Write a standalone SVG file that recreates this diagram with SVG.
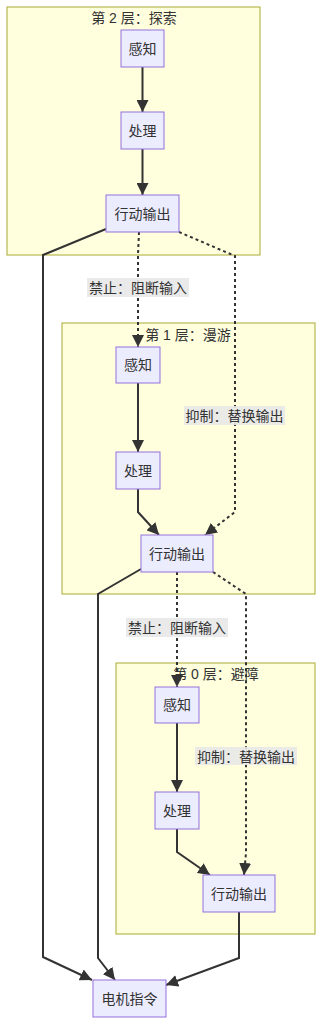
<svg xmlns="http://www.w3.org/2000/svg" width="323" height="1024" viewBox="0 0 323 1024">
<style>
.cluster{fill:#ffffde;stroke:#aaaa33;stroke-width:1}
.node rect{fill:#ececff;stroke:#9370db;stroke-width:1}
text{font-family:"Liberation Sans","Noto Sans CJK SC",sans-serif;font-size:14px;fill:#333;text-anchor:middle;dominant-baseline:central}
.edge{fill:none;stroke:#333;stroke-width:2}
.dot{stroke-dasharray:3 3}
.lbl{fill:#e8e8e8;opacity:0.9}
</style>
<defs>
<marker id="arr" viewBox="0 0 10 10" refX="10" refY="5" markerUnits="userSpaceOnUse" markerWidth="12" markerHeight="12" orient="auto">
<path d="M0,0 L10,5 L0,10 z" fill="#333"/>
</marker>
</defs>
<g id="clusters">
<g id="layer2"><rect class="cluster" x="7" y="7" width="253" height="248"/><text x="134" y="18">第 2 层：探索</text></g>
<g id="layer1"><rect class="cluster" x="62" y="323" width="253" height="271"/><text x="188" y="335">第 1 层：漫游</text></g>
<g id="layer0"><rect class="cluster" x="116" y="663" width="199" height="271"/><text x="216" y="674">第 0 层：避障</text></g>
</g>
<g id="connectors">
<path class="edge" d="M142.5,67 L142.5,112" marker-end="url(#arr)"/>
<path class="edge" d="M142.5,149 L142.5,195" marker-end="url(#arr)"/>
<path class="edge" d="M106,229 L43,255 L43,957 L92,980" marker-end="url(#arr)"/>
<path class="edge dot" d="M139,232 L138,255 L138,347" marker-end="url(#arr)"/>
<path class="edge dot" d="M179,232 L235,256 L235,512 L205,535" marker-end="url(#arr)"/>
<path class="edge" d="M138,383 L138,452" marker-end="url(#arr)"/>
<path class="edge" d="M138,489 L138,512 L159,535" marker-end="url(#arr)"/>
<path class="edge" d="M141,569 L98,594 L98,958 L115,980" marker-end="url(#arr)"/>
<path class="edge dot" d="M177,572 L177,687" marker-end="url(#arr)"/>
<path class="edge dot" d="M213,572 L246,594 L246,853 L244,875" marker-end="url(#arr)"/>
<path class="edge" d="M177,723 L177,792" marker-end="url(#arr)"/>
<path class="edge" d="M177,829 L177,852 L210,875" marker-end="url(#arr)"/>
<path class="edge" d="M239,912 L239,958 L166,985" marker-end="url(#arr)"/>
</g>
<g id="edge-labels">
<g id="lbl1"><rect class="lbl" x="87" y="278" width="102" height="19"/><text x="138" y="288">禁止：阻断输入</text></g>
<g id="lbl2"><rect class="lbl" x="184" y="406" width="101" height="19"/><text x="234.5" y="415.5">抑制：替换输出</text></g>
<g id="lbl3"><rect class="lbl" x="126" y="618" width="102" height="19"/><text x="177" y="628">禁止：阻断输入</text></g>
<g id="lbl4"><rect class="lbl" x="195" y="747" width="102" height="18"/><text x="246" y="756.5">抑制：替换输出</text></g>
</g>
<g id="n2_sense" class="node"><rect x="121" y="30" width="43" height="37"/><text x="142.5" y="48.5">感知</text></g>
<g id="n2_proc" class="node"><rect x="121" y="112" width="43" height="37"/><text x="142.5" y="130.5">处理</text></g>
<g id="n2_act" class="node"><rect x="106" y="195" width="73" height="37"/><text x="142.5" y="213.5">行动输出</text></g>
<g id="n1_sense" class="node"><rect x="116" y="347" width="44" height="36"/><text x="138" y="365">感知</text></g>
<g id="n1_proc" class="node"><rect x="116" y="452" width="44" height="37"/><text x="138" y="470.5">处理</text></g>
<g id="n1_act" class="node"><rect x="141" y="535" width="72" height="37"/><text x="177" y="553.5">行动输出</text></g>
<g id="n0_sense" class="node"><rect x="155" y="687" width="44" height="36"/><text x="177" y="705">感知</text></g>
<g id="n0_proc" class="node"><rect x="155" y="792" width="44" height="37"/><text x="177" y="810.5">处理</text></g>
<g id="n0_act" class="node"><rect x="203" y="875" width="72" height="37"/><text x="239" y="893.5">行动输出</text></g>
<g id="motor" class="node"><rect x="93" y="980" width="73" height="37"/><text x="129.5" y="998.5">电机指令</text></g>
</svg>
